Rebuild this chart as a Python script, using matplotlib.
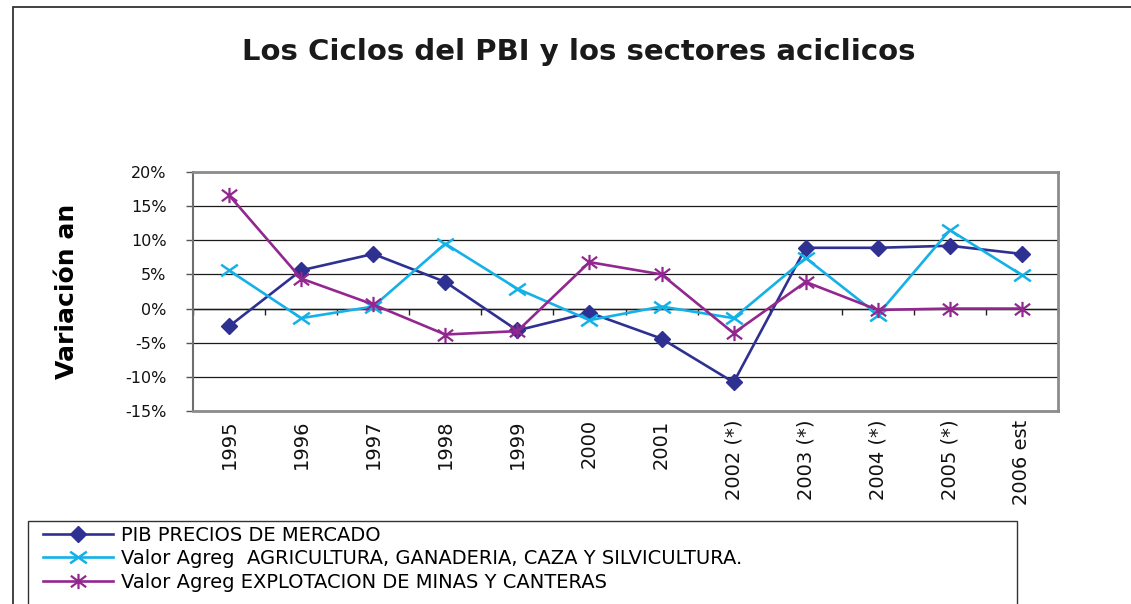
import matplotlib
matplotlib.use("Agg")
import matplotlib.pyplot as plt
from matplotlib.path import Path
from matplotlib.patches import Rectangle

# Series (% annual variation)
years = ['1995', '1996', '1997', '1998', '1999', '2000', '2001',
         '2002 (*)', '2003 (*)', '2004 (*)', '2005 (*)', '2006 est']
pib = [-2.6, 5.6, 8.0, 3.9, -3.2, -0.6, -4.4, -10.8, 8.9, 8.9, 9.2, 8.0]
agro = [5.6, -1.4, 0.3, 9.5, 2.9, -1.7, 0.3, -1.4, 7.4, -0.9, 11.5, 4.9]
minas = [16.6, 4.4, 0.6, -3.8, -3.3, 6.8, 5.0, -3.6, 3.9, -0.2, 0.0, 0.0]

y_ticks = [-15, -10, -5, 0, 5, 10, 15, 20]
y_ticklabels = ['-15%', '-10%', '-5%', '0%', '5%', '10%', '15%', '20%']

labels = ['PIB PRECIOS DE MERCADO',
          'Valor Agreg  AGRICULTURA, GANADERIA, CAZA Y SILVICULTURA.',
          'Valor Agreg EXPLOTACION DE MINAS Y CANTERAS']

W, H = 1131, 604
fig = plt.figure(figsize=(W / 100, H / 100), dpi=100)
fig.patch.set_facecolor('white')

# plot area in pixels: left 193, right 1058, top 172, bottom 411
ax = fig.add_axes([193 / W, 1 - 411 / H, (1058 - 193) / W, (411 - 172) / H])

# Excel style markers: wide X and asterisk (X plus vertical bar)
x_mark = Path([(-1, -0.7), (1, 0.7), (-1, 0.7), (1, -0.7)],
              [Path.MOVETO, Path.LINETO, Path.MOVETO, Path.LINETO])
ast_mark = Path([(-1, -0.75), (1, 0.75), (-1, 0.75), (1, -0.75), (0, -1), (0, 1)],
                [Path.MOVETO, Path.LINETO, Path.MOVETO, Path.LINETO,
                 Path.MOVETO, Path.LINETO])

xs = list(range(len(years)))
l1, = ax.plot(xs, pib, color='#2E3192', linewidth=1.9, marker='D', markersize=8.5,
              markerfacecolor='#2E3192', markeredgecolor='#2E3192', zorder=3)
l2, = ax.plot(xs, agro, color='#13B1E8', linewidth=1.9, marker=x_mark, markersize=12,
              markeredgewidth=1.8, zorder=4)
l3, = ax.plot(xs, minas, color='#92278F', linewidth=1.9, marker=ast_mark, markersize=11,
              markeredgewidth=1.6, zorder=5)

ax.set_xlim(-0.5, len(years) - 0.5)
ax.set_ylim(-15, 20)

# y axis
ax.set_yticks(y_ticks, labels=y_ticklabels)
ax.tick_params(axis='y', direction='out', length=5, width=1, color='#555555',
               pad=14, labelsize=11.5, labelcolor='#111111')
ax.grid(axis='y', color='#1a1a1a', linewidth=0.9, zorder=1)
ax.set_axisbelow(True)

# x labels at the bottom, rotated
ax.set_xticks(xs, labels=years, rotation=90)
ax.tick_params(axis='x', length=0, pad=6, labelsize=14, labelcolor='#111111')

# frame
for side in ['top', 'right', 'bottom']:
    ax.spines[side].set_color('#8c8c8c')
    ax.spines[side].set_linewidth(2)
ax.spines['left'].set_color('#6e6e6e')
ax.spines['left'].set_linewidth(1.5)

# category axis crossing at 0 with ticks between categories
sec = ax.secondary_xaxis(15 / 35)
sec.set_xticks([k - 0.5 for k in range(len(years) + 1)], labels=[])
sec.tick_params(direction='out', length=4, width=1, color='#222222')
sec.spines['bottom'].set_color('#222222')
sec.spines['bottom'].set_linewidth(1)

ax.set_ylabel('Variación an', fontsize=18, fontweight='bold')
ax.yaxis.set_label_coords(-0.132, 0.5)

fig.text(579 / W, 1 - 60 / H, 'Los Ciclos del PBI y los sectores aciclicos',
         ha='center', va='baseline', fontsize=21, fontweight='bold', color='#1a1a1a')

# outer chart border (cut at right and bottom) and legend box
fig.add_artist(Rectangle((13 / W, -0.1), 1.2, 1 - 7 / H + 0.1, transform=fig.transFigure,
                         fill=False, edgecolor='#333333', linewidth=1.3))
fig.add_artist(Rectangle((28 / W, -0.1), (1017 - 28) / W, 1 - 521 / H + 0.1,
                         transform=fig.transFigure, fill=False,
                         edgecolor='#333333', linewidth=1))

ax.legend([l1, l2, l3], labels, loc='upper left',
          bbox_to_anchor=(43 / W, 1 - 526 / H), bbox_transform=fig.transFigure,
          frameon=False, fontsize=14, handlelength=3.6, handletextpad=0.4,
          labelspacing=0.22, borderpad=0, borderaxespad=0, numpoints=1)

fig.savefig('out.png', dpi=100, facecolor='white')
